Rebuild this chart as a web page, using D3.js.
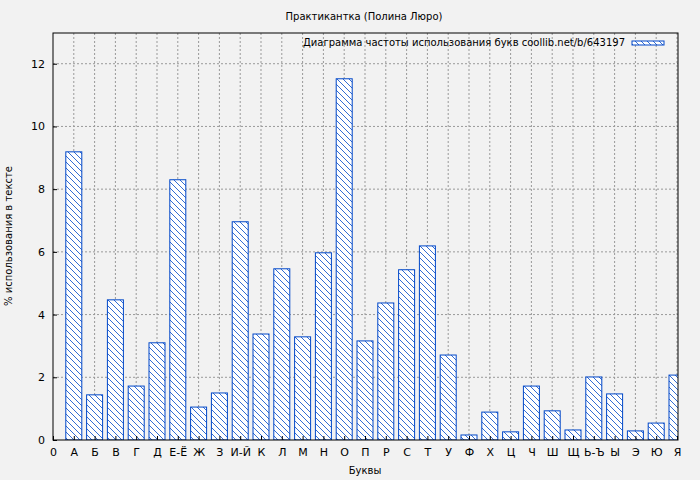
<!DOCTYPE html>
<html><head><meta charset="utf-8">
<script src="https://cdn.jsdelivr.net/npm/d3@7"></script>
<style>body{margin:0;background:#f2f2f2}text{font-family:"DejaVu Sans",sans-serif}</style>
</head><body><div id="chart"></div>
<script>
const letters = ['А','Б','В','Г','Д','Е-Ё','Ж','З','И-Й','К','Л','М','Н','О','П','Р','С','Т','У','Ф','Х','Ц','Ч','Ш','Щ','Ь-Ъ','Ы','Э','Ю','Я'];
const values = [9.19,1.44,4.47,1.72,3.10,8.30,1.05,1.50,6.96,3.38,5.46,3.29,5.97,11.52,3.16,4.37,5.43,6.19,2.71,0.16,0.89,0.26,1.72,0.93,0.32,2.01,1.47,0.29,0.54,2.07];
const yTicks = [0,2,4,6,8,10,12];

const W = 700, H = 480, m = {l:53, r:22, t:33, b:40};
const svg = d3.select('#chart').append('svg').attr('width', W).attr('height', H);
svg.append('rect').attr('width', W).attr('height', H).attr('fill', '#f2f2f2');

const x = d3.scaleLinear().domain([0, 30]).range([m.l, 677]);
const y = d3.scaleLinear().domain([0, 12.98]).range([H - m.b, m.t]);
const blue = '#0047c8';

const defs = svg.append('defs');
const pat = defs.append('pattern').attr('id', 'hatch').attr('patternUnits', 'userSpaceOnUse')
  .attr('width', 6).attr('height', 6);
pat.append('rect').attr('width', 6).attr('height', 6).attr('fill', '#fff');
pat.append('path').attr('d', 'M-1,-1 L7,7 M-1,5 L1,7 M5,-1 L7,1').attr('stroke', blue).attr('stroke-width', 0.8);
defs.append('clipPath').attr('id', 'clip').append('rect')
  .attr('x', m.l).attr('y', m.t).attr('width', 678 - m.l).attr('height', H - m.b - m.t);

// grid
const g = svg.append('g');
g.selectAll('.vg').data(d3.range(1, 31)).join('line')
  .attr('x1', d => x(d)).attr('x2', d => x(d)).attr('y1', m.t).attr('y2', H - m.b)
  .attr('stroke', '#999').attr('stroke-dasharray', '2,2');
g.selectAll('.hg').data(yTicks.slice(1)).join('line')
  .attr('x1', m.l).attr('x2', 678).attr('y1', d => y(d)).attr('y2', d => y(d))
  .attr('stroke', '#999').attr('stroke-dasharray', '2,2');

// bars
svg.append('g').attr('clip-path', 'url(#clip)').selectAll('rect').data(values).join('rect')
  .attr('x', (d, i) => x(i + 1) - 8).attr('width', 16)
  .attr('y', d => y(d)).attr('height', d => y(0) - y(d))
  .attr('fill', 'url(#hatch)').attr('stroke', blue).attr('stroke-width', 1);

// frame
svg.append('rect').attr('x', m.l).attr('y', m.t).attr('width', 678 - m.l).attr('height', H - m.b - m.t)
  .attr('fill', 'none').attr('stroke', '#000');

// axes
const xa = svg.append('g').attr('transform', `translate(0,${H - m.b})`)
  .call(d3.axisBottom(x).tickValues(d3.range(0, 31)).tickSize(-4).tickPadding(8)
    .tickFormat(d => d === 0 ? '0' : letters[d - 1]));
const ya = svg.append('g').attr('transform', `translate(${m.l},0)`)
  .call(d3.axisLeft(y).tickValues(yTicks).tickSize(-4).tickPadding(8));
[xa, ya].forEach(a => {
  a.select('.domain').remove();
  a.selectAll('text').attr('font-size', 11).attr('fill', '#000');
});

svg.append('text').attr('x', 364).attr('y', 20).attr('text-anchor', 'middle').attr('font-size', 10)
  .text('Практикантка (Полина Люро)');
svg.append('text').attr('x', 365).attr('y', 474).attr('text-anchor', 'middle').attr('font-size', 10)
  .text('Буквы');
svg.append('text').attr('transform', 'translate(12,236) rotate(-90)').attr('text-anchor', 'middle')
  .attr('font-size', 10).text('% использования в тексте');

// legend
svg.append('text').attr('x', 625).attr('y', 46).attr('text-anchor', 'end').attr('font-size', 10)
  .text('Диаграмма частоты использования букв coollib.net/b/643197');
svg.append('rect').attr('x', 632).attr('y', 41).attr('width', 32).attr('height', 4)
  .attr('fill', 'url(#hatch)').attr('stroke', blue);
</script></body></html>
